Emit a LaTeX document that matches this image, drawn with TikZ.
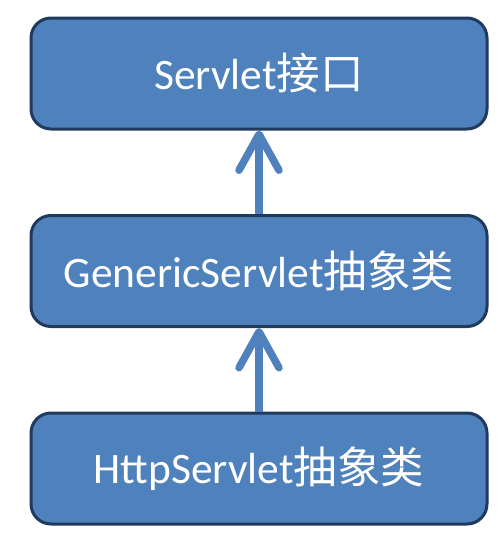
\documentclass[tikz,border=0pt]{standalone}
\usepackage{fontspec}
\setmainfont{Carlito}
\newfontfamily\cjk{Noto Sans CJK SC}
\usetikzlibrary{arrows.meta}
\definecolor{boxfill}{HTML}{4F81BD}
\definecolor{boxline}{HTML}{1F3A5C}
\begin{document}
\begin{tikzpicture}[x=1pt,y=-1pt,
  classbox/.style={draw=boxline, line width=3pt, fill=boxfill, rounded corners=20pt,
    minimum width=456pt, minimum height=111pt, inner sep=0pt,
    text=white, font=\fontsize{43.5}{50}\selectfont},
  inherit/.style={draw=boxfill, line width=7.5pt, -{Straight Barb[length=36pt,width=40pt,round]}}]
\useasboundingbox (0,0) rectangle (500,538);
\node[classbox] (a) at (259,73.5) {Servlet{\cjk 接口}};
\node[classbox] (b) at (259,271) {GenericServlet{\cjk 抽象类}};
\node[classbox] (c) at (259,468.5) {HttpServlet{\cjk 抽象类}};
\draw[inherit] (b.north) -- (a.south);
\draw[inherit] (c.north) -- (b.south);
\end{tikzpicture}
\end{document}
